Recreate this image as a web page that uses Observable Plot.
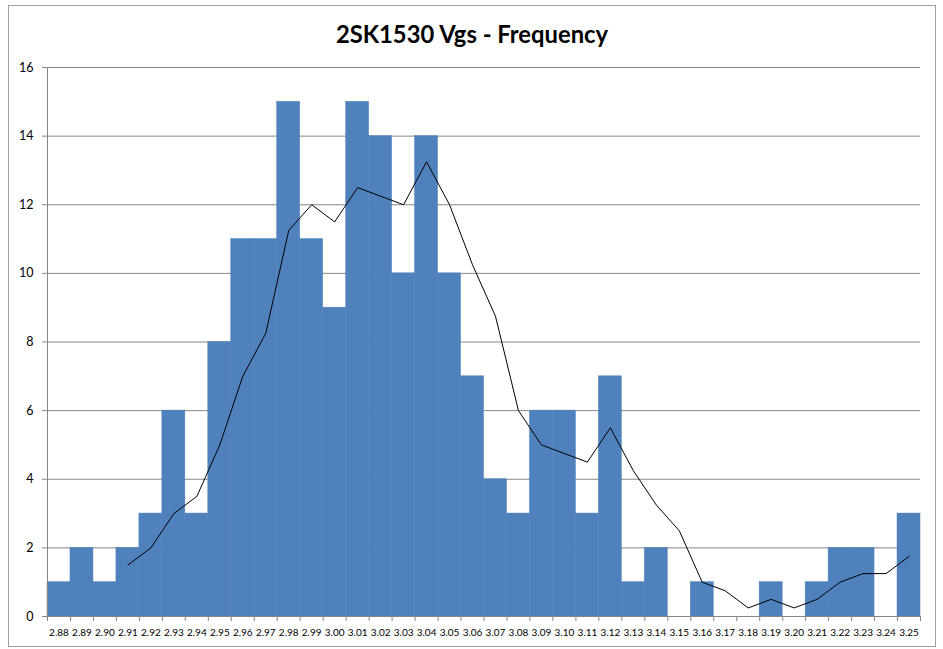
<!DOCTYPE html>
<html><head><meta charset="utf-8">
<script src="https://cdn.jsdelivr.net/npm/d3@7"></script>
<script src="https://cdn.jsdelivr.net/npm/@observablehq/plot@0.6"></script>
<style>
body{margin:0;background:#fff;}
#wrap{position:relative;width:943px;height:649px;}
#frame{position:absolute;left:8px;top:5px;width:928px;height:642px;border:1px solid #a0a0a0;box-sizing:border-box;}
#chart{position:absolute;left:0;top:0;}
</style>
</head><body>
<div id="wrap"><div id="frame"></div><div id="chart"></div></div>
<script>
const title = "2SK1530 Vgs - Frequency";
const categories = ["2.88","2.89","2.90","2.91","2.92","2.93","2.94","2.95","2.96","2.97","2.98","2.99","3.00","3.01","3.02","3.03","3.04","3.05","3.06","3.07","3.08","3.09","3.10","3.11","3.12","3.13","3.14","3.15","3.16","3.17","3.18","3.19","3.20","3.21","3.22","3.23","3.24","3.25"];
const counts = [1,2,1,2,3,6,3,8,11,11,15,11,9,15,14,10,14,10,7,4,3,6,6,3,7,1,2,0,1,0,0,1,0,1,2,2,0,3];
const lineCategories = categories.slice(3);
const lineValues = [1.5,2,3,3.5,5,7,8.25,11.25,12,11.5,12.5,12.25,12,13.25,12,10.25,8.75,6,5,4.75,4.5,5.5,4.25,3.25,2.5,1,0.75,0.25,0.5,0.25,0.5,1,1.25,1.25,1.75];
const yTicks = [0,2,4,6,8,10,12,14,16];

const bars = categories.map((c, i) => ({cat: c, count: counts[i]}));
const line = lineCategories.map((c, i) => ({cat: c, v: lineValues[i]}));

const W = 943, H = 649, mL = 47, mR = 23, mT = 67, mB = 33;
const bw = (W - mL - mR) / categories.length;
const gray = "#878787";

const chart = Plot.plot({
  width: W, height: H,
  marginLeft: mL, marginRight: mR, marginTop: mT, marginBottom: mB,
  style: {fontFamily: "Lato, sans-serif", background: "transparent", color: "#000"},
  x: {type: "band", domain: categories, padding: 0, label: null},
  y: {domain: [0, 16], label: null},
  marks: [
    Plot.gridY(yTicks, {stroke: gray, strokeOpacity: 1}),
    Plot.barY(bars, {x: "cat", y: "count", fill: "#4F81BD", stroke: "#4F81BD", strokeWidth: 0.5}),
    Plot.lineY(line, {x: "cat", y: "v", stroke: "#000", strokeWidth: 1}),
    Plot.ruleY([0], {stroke: gray}),
    Plot.ruleX([categories[0]], {dx: -bw / 2, stroke: gray}),
    Plot.ruleX(categories, {y1: 0, y2: 0, insetBottom: -5, dx: -bw / 2, stroke: gray}),
    Plot.ruleX([categories[categories.length - 1]], {y1: 0, y2: 0, insetBottom: -5, dx: bw / 2, stroke: gray}),
    Plot.axisY(yTicks, {tickSize: 5, tickPadding: 9, fontSize: 12.5, stroke: gray, strokeOpacity: 1}),
    Plot.axisX({tickSize: 0, tickPadding: 12, fontSize: 10})
  ]
});
const svg = d3.select(chart);
svg.append("text")
  .attr("x", 472).attr("y", 43)
  .attr("text-anchor", "middle")
  .attr("font-family", "Lato, sans-serif")
  .attr("font-weight", "bold")
  .attr("font-size", 23.8)
  .attr("fill", "#000")
  .text(title);
document.getElementById("chart").appendChild(chart);
</script>
</body></html>
